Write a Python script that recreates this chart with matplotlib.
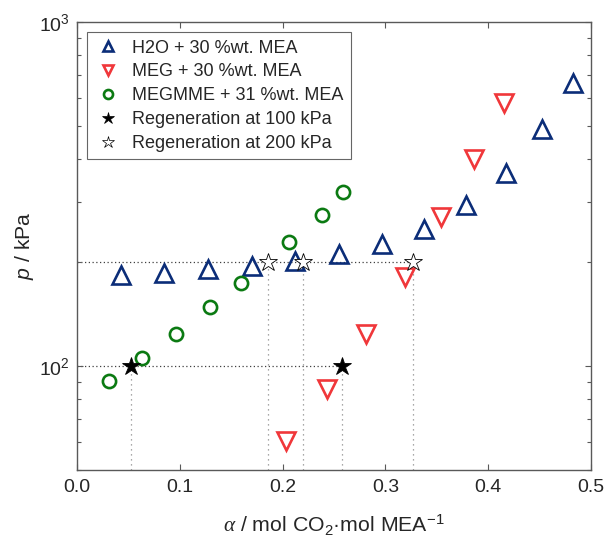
import matplotlib
matplotlib.use('Agg')
import matplotlib.pyplot as plt
from matplotlib.lines import Line2D
from matplotlib.ticker import LogLocator, NullFormatter, FixedLocator, FormatStrFormatter

plt.rcParams['font.family'] = ['Liberation Sans', 'DejaVu Sans']
plt.rcParams['mathtext.fontset'] = 'custom'
plt.rcParams['mathtext.rm'] = 'Liberation Sans'
plt.rcParams['mathtext.it'] = 'Liberation Sans:italic'
plt.rcParams['mathtext.cal'] = 'Liberation Serif:italic'

# CO2 loading (mol CO2 / mol MEA) and partial pressure (kPa)
h2o_alpha = [0.0425, 0.0846, 0.1277, 0.1702, 0.2121, 0.2544, 0.2970, 0.3378,
             0.3781, 0.4170, 0.4520, 0.4828]
h2o_p = [183.5, 186.7, 191.0, 195.3, 201.6, 211.3, 226.0, 250.2, 293.3, 364.7,
         487.6, 666.0]

meg_alpha = [0.2033, 0.2435, 0.2811, 0.3190, 0.3538, 0.3865, 0.4154]
meg_p = [60.6, 85.7, 123.9, 181.8, 270.5, 400.5, 582.6]

megmme_alpha = [0.0314, 0.0635, 0.0963, 0.1294, 0.1595, 0.2062, 0.2380, 0.2590]
megmme_p = [90.6, 105.7, 123.7, 148.7, 174.7, 228.8, 274.8, 321.0]

regen100_alpha = [0.0524, 0.2576]
regen100_p = [100, 100]
regen200_alpha = [0.1857, 0.2200, 0.3273]
regen200_p = [200, 200, 200]

labels = ['H2O + 30 %wt. MEA', 'MEG + 30 %wt. MEA', 'MEGMME + 31 %wt. MEA',
          'Regeneration at 100 kPa', 'Regeneration at 200 kPa']

c_blue = '#0b2d78'
c_red = '#f0373a'
c_green = '#0b7a12'

xlim = (0.0, 0.5)
ylim = (50, 1000)

fig = plt.figure(figsize=(6.05, 5.38), dpi=100)
ax = fig.add_axes([0.1273, 0.1271, 0.8496, 0.832])

# guide lines to the regeneration points
for a, p in zip(regen100_alpha, regen100_p):
    ax.plot([a, a], [ylim[0], p], ls=(0, (1, 3)), color='0.55', lw=0.9, zorder=1)
for a, p in zip(regen200_alpha, regen200_p):
    ax.plot([a, a], [ylim[0], p], ls=(0, (1, 3)), color='0.55', lw=0.9, zorder=1)
ax.plot([0, max(regen100_alpha)], [100, 100], ls=(0, (1, 2)), color='0.25', lw=0.9, zorder=1)
ax.plot([0, max(regen200_alpha)], [200, 200], ls=(0, (1, 2)), color='0.25', lw=0.9, zorder=1)

ax.plot(h2o_alpha, h2o_p, ls='none', marker='^', ms=12.5, mfc='none', mec=c_blue,
        mew=1.9, zorder=3)
ax.plot(meg_alpha, meg_p, ls='none', marker='v', ms=12.5, mfc='none', mec=c_red,
        mew=1.9, zorder=3)
ax.plot(megmme_alpha, megmme_p, ls='none', marker='o', ms=9.5, mfc='none', mec=c_green,
        mew=1.9, zorder=3)
ax.plot(regen100_alpha, regen100_p, ls='none', marker='*', ms=13.5, mfc='black', mec='black',
        mew=0.6, zorder=4)
ax.plot(regen200_alpha, regen200_p, ls='none', marker='*', ms=13.5, mfc='white', mec='black',
        mew=0.6, zorder=4)

ax.set_xscale('linear')
ax.set_yscale('log')
ax.set_xlim(*xlim)
ax.set_ylim(*ylim)

ax.xaxis.set_major_locator(FixedLocator([0.0, 0.1, 0.2, 0.3, 0.4, 0.5]))
ax.xaxis.set_major_formatter(FormatStrFormatter('%.1f'))
ax.yaxis.set_major_locator(LogLocator(base=10, numticks=10))
ax.yaxis.set_minor_locator(LogLocator(base=10, subs=range(2, 10), numticks=20))
ax.yaxis.set_minor_formatter(NullFormatter())

axis_color = '0.35'
for s in ax.spines.values():
    s.set_color(axis_color)
    s.set_linewidth(1.0)
ax.tick_params(which='both', direction='in', top=True, right=True, colors=axis_color,
               labelcolor='#262626', labelsize=14)
ax.tick_params(which='major', length=4.5, width=0.8)
ax.tick_params(which='minor', length=3, width=0.8)
ax.tick_params(axis='x', pad=7)
ax.tick_params(axis='y', pad=5)

ax.set_xlabel(r'$\mathcal{\alpha}$ / mol CO$_2$·mol MEA$^{-1}$', fontsize=15.3,
              color='#262626', labelpad=12)
ax.set_ylabel(r'$p$ / kPa', fontsize=15.3, color='#262626', labelpad=2)

handles = [
    Line2D([], [], ls='none', marker='^', ms=7.5, mfc='none', mec=c_blue, mew=1.9),
    Line2D([], [], ls='none', marker='v', ms=7.5, mfc='none', mec=c_red, mew=1.9),
    Line2D([], [], ls='none', marker='o', ms=6.5, mfc='none', mec=c_green, mew=1.9),
    Line2D([], [], ls='none', marker='*', ms=9, mfc='black', mec='black', mew=0.5),
    Line2D([], [], ls='none', marker='*', ms=9, mfc='white', mec='black', mew=0.5),
]
leg = ax.legend(handles, labels, loc='upper left', bbox_to_anchor=(0.019, 0.977),
                fontsize=13, frameon=True, fancybox=False, borderpad=0.4,
                labelspacing=0.38, handlelength=1.5, handletextpad=0.6,
                borderaxespad=0.0)
leg.get_frame().set_edgecolor('0.25')
leg.get_frame().set_linewidth(0.8)
for t in leg.get_texts():
    t.set_color('#262626')

fig.savefig('out.png', dpi=100)
